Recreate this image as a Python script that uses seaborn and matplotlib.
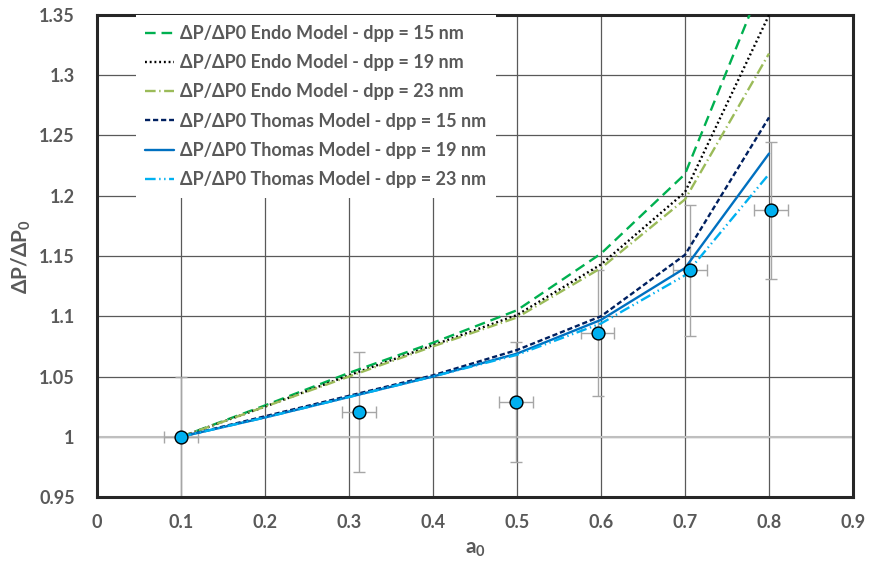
import matplotlib
matplotlib.use("Agg")
import matplotlib.pyplot as plt
import seaborn as sns
import pandas as pd

# model curves
x_model = [0.1, 0.2, 0.3, 0.4, 0.5, 0.6, 0.7, 0.8]
endo_15 = [1.0, 1.026, 1.053, 1.078, 1.105, 1.152, 1.218, 1.39]
endo_19 = [1.0, 1.025, 1.051, 1.076, 1.101, 1.143, 1.203, 1.35]
endo_23 = [1.0, 1.025, 1.050, 1.075, 1.099, 1.140, 1.197, 1.318]
thomas_15 = [1.0, 1.017, 1.034, 1.051, 1.072, 1.100, 1.151, 1.265]
thomas_19 = [1.0, 1.016, 1.033, 1.050, 1.069, 1.097, 1.140, 1.235]
thomas_23 = [1.0, 1.016, 1.033, 1.050, 1.068, 1.094, 1.134, 1.218]

series_names = [
    "ΔP/ΔP0 Endo Model - dpp = 15 nm",
    "ΔP/ΔP0 Endo Model - dpp = 19 nm",
    "ΔP/ΔP0 Endo Model - dpp = 23 nm",
    "ΔP/ΔP0 Thomas Model - dpp = 15 nm",
    "ΔP/ΔP0 Thomas Model - dpp = 19 nm",
    "ΔP/ΔP0 Thomas Model - dpp = 23 nm",
]

# measured points
pts_x = [0.1, 0.312, 0.499, 0.596, 0.706, 0.802]
pts_y = [1.0, 1.0205, 1.029, 1.086, 1.138, 1.188]
pts_xerr = [0.02, 0.02, 0.02, 0.02, 0.02, 0.02]
pts_yerr = [0.05, 0.05, 0.05, 0.052, 0.054, 0.057]

x_ticks = [0, 0.1, 0.2, 0.3, 0.4, 0.5, 0.6, 0.7, 0.8, 0.9]
x_labels = ["0", "0.1", "0.2", "0.3", "0.4", "0.5", "0.6", "0.7", "0.8", "0.9"]
y_ticks = [0.95, 1.0, 1.05, 1.1, 1.15, 1.2, 1.25, 1.3, 1.35]
y_labels = ["0.95", "1", "1.05", "1.1", "1.15", "1.2", "1.25", "1.3", "1.35"]

sns.set_style("white")
plt.rcParams["font.family"] = ["Lato", "Noto Sans", "DejaVu Sans"]
plt.rcParams["mathtext.fontset"] = "custom"
plt.rcParams["mathtext.rm"] = "Lato"
plt.rcParams["mathtext.bf"] = "Lato:bold"

all_y = [endo_15, endo_19, endo_23, thomas_15, thomas_19, thomas_23]
df = pd.DataFrame({
    "a0": x_model * len(series_names),
    "ratio": [v for ys in all_y for v in ys],
    "series": [n for n in series_names for _ in x_model],
})

palette = dict(zip(series_names, ["#00B050", "#000000", "#9BBB59", "#002060", "#0070C0", "#00B0F0"]))
dashes = dict(zip(series_names, [
    (4.5, 2.5),
    (0.8, 1.2),
    (4.5, 1.5, 0.6, 1.5),
    (2.2, 1.2),
    "",
    (4.5, 1.5, 0.6, 1.5, 0.6, 1.5),
]))

grey_txt = "#595959"

fig, ax = plt.subplots(figsize=(8.7, 5.72), dpi=100)
fig.subplots_adjust(left=0.1115, right=0.9805, top=0.9738, bottom=0.1311)

ax.grid(True, color="#595959", lw=0.9)
ax.set_axisbelow(True)
ax.axhline(1.0, color="#bfbfbf", lw=1.5, zorder=1)

ax.errorbar(pts_x, pts_y, xerr=pts_xerr, yerr=pts_yerr, fmt="none",
            ecolor="#a6a6a6", elinewidth=1.0, capsize=4, capthick=1.0, zorder=2)

sns.lineplot(data=df, x="a0", y="ratio", hue="series", style="series",
             palette=palette, dashes=dashes, linewidth=1.7, ax=ax, zorder=3)

sns.scatterplot(x=pts_x, y=pts_y, color="#00B0F0", edgecolor="black",
                linewidth=1.0, s=85, ax=ax, zorder=4, legend=False)

ax.set_xlim(0, 0.9)
ax.set_ylim(0.95, 1.35)
ax.set_xticks(x_ticks)
ax.set_xticklabels(x_labels)
ax.set_yticks(y_ticks)
ax.set_yticklabels(y_labels)
ax.tick_params(length=0, labelsize=13, labelcolor=grey_txt)
ax.tick_params(axis="x", pad=12)
ax.tick_params(axis="y", pad=16)
for lab in ax.get_xticklabels() + ax.get_yticklabels():
    lab.set_fontweight("bold")

for sp in ax.spines.values():
    sp.set_visible(True)
    sp.set_color("#262626")
    sp.set_linewidth(2.2)

ax.set_xlabel(r"a$_{\mathbf{0}}$", fontsize=15, fontweight="bold", color=grey_txt, labelpad=6)
ax.set_ylabel(r"ΔP/ΔP$_{\mathbf{0}}$", fontsize=15, fontweight="bold", color=grey_txt, labelpad=4)

leg = ax.legend(loc="upper left", bbox_to_anchor=(0.051, 1.0), frameon=True,
                fancybox=False, facecolor="white", edgecolor="none", framealpha=1,
                prop={"size": 13.0, "weight": "bold"}, labelcolor=grey_txt,
                handlelength=1.6, handletextpad=0.3, labelspacing=0.68,
                borderpad=0.55, borderaxespad=0)
leg.get_frame().set_linewidth(0)
leg.set_zorder(5)

plt.savefig("out.png", dpi=100)
